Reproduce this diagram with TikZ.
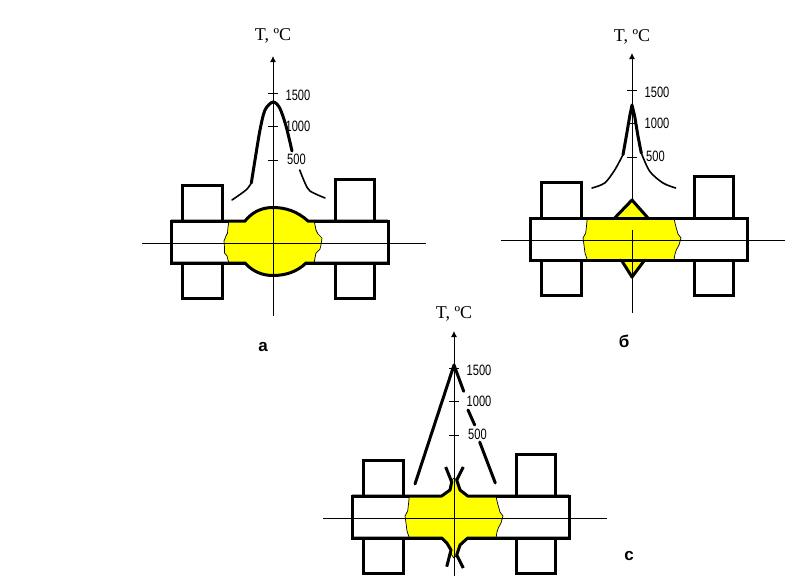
\documentclass[tikz,border=0pt]{standalone}
\usepackage{fontspec}
\setmainfont{Liberation Serif}
\newfontfamily\labelsans{Liberation Sans}
\usetikzlibrary{arrows.meta}
\definecolor{meltyellow}{RGB}{255,255,0}

\tikzset{
  outline/.style={draw=black, line width=3pt},
  axisline/.style={draw=black, line width=0.9pt},
  melt/.style={fill=meltyellow, draw=black, line width=0.7pt},
  thickcurve/.style={draw=black, line width=3pt, line cap=round, line join=round},
  thincurve/.style={draw=black, line width=1.6pt, line cap=round, line join=round},
  axistitle/.style={font=\fontsize{18}{18}\selectfont, inner sep=0pt},
  scalelabel/.style={font=\labelsans\fontsize{15}{15}\selectfont, inner sep=0pt, xscale=0.74},
  panelname/.style={font=\labelsans\bfseries\fontsize{17}{17}\selectfont, inner sep=0pt}
}

% clamps and plate
\newcommand{\platepart}{
  \draw[outline] (-90.5,-22) rectangle (-51,-57.5);
  \draw[outline] (62,-22) rectangle (101,-63.5);
  \draw[outline] (-90.5,20) rectangle (-51,55);
  \draw[outline] (62,20) rectangle (101,55);
  \draw[outline, fill=white] (-102,-22) rectangle (115,20);
}
% axes, ticks and scale: name, end of upper piece, start of lower piece, bottom, title height
\newcommand{\axispart}[5]{
  \coordinate (#1top) at (0,-187);
  \coordinate (#1stop) at (0,#2);
  \coordinate (#1resume) at (0,#3);
  \coordinate (#1bottom) at (0,#4);
  \coordinate (#1left) at (-131,0);
  \coordinate (#1right) at (153,0);
  \draw[axisline, -{Latex[length=6pt,width=6pt]}] (#1stop) -- (#1top);
  \draw[axisline] (#1resume) -- (#1bottom);
  \draw[axisline] (#1left) -- (#1right);
  \draw[axisline] (-5,-150) -- (5,-150);
  \draw[axisline] (-5,-117) -- (5,-117);
  \draw[axisline] (-5,-83) -- (5,-83);
  \node[axistitle] (#1title) at (0,#5) {T, ºC};
  \node[scalelabel] (#1high) at (25,-148) {1500};
  \node[scalelabel] (#1mid) at (25,-117) {1000};
  \node[scalelabel] (#1low) at (23.5,-84) {500};
}

\begin{document}
\begin{tikzpicture}[x=1pt, y=-1pt]
  \useasboundingbox (0,0) rectangle (804,576);

  % panel a
  \begin{scope}[shift={(273,243)}]
    \platepart
    \path[melt] (-44,-22) -- (-45,-16) -- (-45.5,-10) -- (-47,-7) -- (-49,-2) -- (-48.5,4) -- (-48.5,10) -- (-46,13) -- (-45,17) -- (-44,20) -- (-28,20)
      .. controls (-20,29) and (-10,32.5) .. (0,32.5) .. controls (12,32.5) and (24,29) .. (33,20)
      -- (41,20) -- (42,15) -- (43,10) -- (47,6) -- (48,2) -- (49,-5) -- (45,-9) -- (43,-13) -- (42,-18) -- (41,-22) -- (35,-22)
      .. controls (24,-32) and (12,-35.5) .. (0,-35.5) .. controls (-10,-35.5) and (-20,-32) .. (-28,-22) -- cycle;
    \draw[outline] (-102,-22) -- (-28,-22) .. controls (-20,-32) and (-10,-35.5) .. (0,-35.5)
      .. controls (12,-35.5) and (24,-32) .. (35,-22) -- (115,-22);
    \draw[outline] (-102,20) -- (-28,20) .. controls (-20,29) and (-10,32.5) .. (0,32.5)
      .. controls (12,32.5) and (24,29) .. (33,20) -- (115,20);
    \axispart{a}{0}{0}{72.5}{-207}
    \draw[thincurve] plot[smooth] coordinates {(-41,-43) (-27,-53) (-21.7,-60)};
    \draw[thickcurve] plot[smooth] coordinates {(-21.7,-60) (-18,-83) (-13,-113) (-8,-133) (0,-141) (6.7,-135) (13,-117) (19,-92)};
    \draw[thincurve] plot[smooth] coordinates {(26.7,-73) (32,-60) (37,-52) (52,-45)};
  \end{scope}

  % panel b
  \begin{scope}[shift={(632,240)}]
    \platepart
    \path[melt] (-44.7,-22) -- (-45.5,-14) -- (-46.3,-7) -- (-49,-2) -- (-48,5) -- (-47,13) -- (-44.7,20) -- (-10.7,20) -- (0,38)
      -- (12.7,20) -- (42,20) -- (43,14) -- (44.3,10) -- (47,5) -- (49,-2) -- (46,-6) -- (44.3,-12) -- (43,-17) -- (42,-22) -- (16,-22) -- (0,-40) -- (-17.3,-22) -- cycle;
    \draw[outline] (-102,-22) rectangle (115,20);
    \draw[thickcurve] (-17.3,-22) -- (0,-40) -- (16,-22);
    \draw[thickcurve] (-10.7,20) -- (0,37) -- (12.7,20);
    \axispart{b}{-40}{-9.6}{72.5}{-203}
    \draw[thincurve] plot[smooth] coordinates {(-40,-52) (-27.3,-57) (-17.3,-70) (-9,-85.3)};
    \draw[thickcurve] plot coordinates {(-9,-85.3) (-5.7,-103.7) (-2.3,-123.7) (0,-135) (2.7,-123.7) (6,-103.7) (9.3,-87)};
    \draw[thincurve] plot[smooth] coordinates {(9.3,-87) (17.7,-68.7) (31,-57) (43.7,-52)};
  \end{scope}

  % panel c
  \begin{scope}[shift={(454,518)}]
    \platepart
    \path[melt] (-44.7,-22) -- (-45.5,-14) -- (-46.3,-7) -- (-49,-2) -- (-48,5) -- (-47,13) -- (-44.7,20) -- (-12.3,20) -- (-7,25.3) -- (-3,32) -- (-2.3,37)
      -- (0,40) -- (2.7,37) -- (6,27) -- (13.7,20) -- (42,20) -- (43,14) -- (44.3,10) -- (47,5) -- (49,-2) -- (46,-6) -- (44.3,-12) -- (43,-17) -- (42,-22)
      -- (13.7,-22) -- (6,-28) -- (2.7,-38) -- (0,-40) -- (-2.3,-38) -- (-4,-28) -- (-12.3,-22) -- cycle;
    \draw[outline, line join=round] (-102,-22) -- (-12.3,-22) -- (-4,-28) -- (-2.3,-36) -- (-8.3,-51);
    \draw[outline, line join=round] (115,-22) -- (13.7,-22) -- (6,-28) -- (2.7,-38) -- (9.3,-51);
    \draw[outline, line join=round] (-102,20) -- (-12.3,20) -- (-7,25.3) -- (-3,32) -- (-7.3,48.7);
    \draw[outline, line join=round] (115,20) -- (13.7,20) -- (6,27) -- (2.7,37) -- (9.3,50);
    \axispart{c}{0}{0}{58}{-204}
    \draw[thickcurve] (-39,-34) -- (0,-153) -- (9.7,-126.7);
    \draw[thickcurve] (14,-108) -- (20.7,-93);
    \draw[thickcurve] (25.7,-76) -- (41.3,-35);
  \end{scope}

  \node[panelname] (namea) at (263,347) {а};
  \node[panelname] (nameb) at (624,341) {б};
  \node[panelname] (namec) at (629,556) {с};
\end{tikzpicture}
\end{document}
